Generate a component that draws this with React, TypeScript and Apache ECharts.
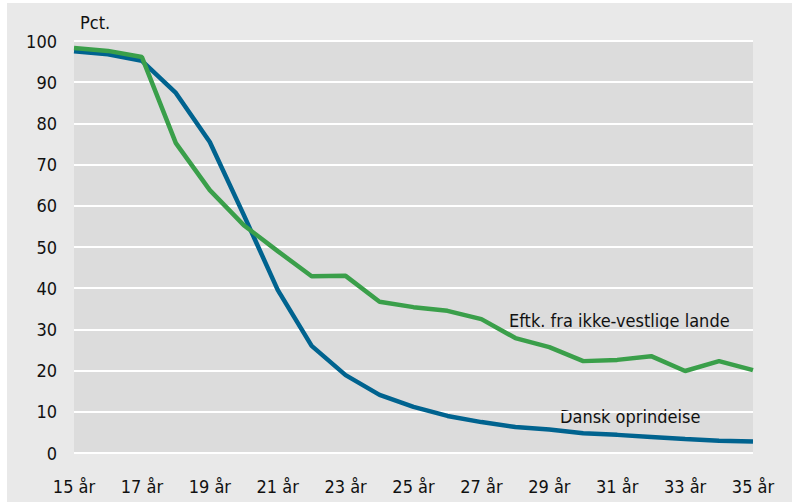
import React, { useEffect, useRef } from "react";
import * as echarts from "echarts";

const ages = ["15 år","16 år","17 år","18 år","19 år","20 år","21 år","22 år","23 år","24 år","25 år","26 år","27 år","28 år","29 år","30 år","31 år","32 år","33 år","34 år","35 år"];
const danskOprindelse = [97.5, 96.8, 95.2, 87.4, 75.5, 57.8, 39.6, 26.0, 18.9, 14.1, 11.2, 9.0, 7.5, 6.3, 5.7, 4.8, 4.4, 3.9, 3.4, 3.0, 2.8];
const ikkeVestlige = [98.3, 97.6, 96.1, 75.2, 63.8, 55.3, 49.0, 42.9, 43.0, 36.7, 35.4, 34.5, 32.5, 27.9, 25.7, 22.3, 22.6, 23.5, 19.9, 22.3, 20.1];
const yTicks = { min: 0, max: 100, interval: 10 };
const FONT = '"Liberation Sans Narrow", "DejaVu Sans Condensed", "Roboto Condensed", sans-serif';

export default function App() {
  const ref = useRef<HTMLDivElement>(null);
  useEffect(() => {
    if (!ref.current) return;
    const chart = echarts.init(ref.current, null, { renderer: "svg" });
    chart.setOption({
      animation: false,
      backgroundColor: "#ffffff",
      textStyle: { fontFamily: FONT },
      graphic: [
        { type: "rect", z: -10, shape: { x: 7, y: 3, width: 785, height: 499 }, style: { fill: "#e9e9e9" } },
        { type: "text", left: 80, top: 13, style: { text: "Pct.", font: `18px ${FONT}`, fill: "#111" } },
        { type: "text", left: 509, top: 311, style: { text: "Eftk. fra ikke-vestlige lande", font: `18px ${FONT}`, fill: "#111" } },
        { type: "text", left: 560, top: 407, style: { text: "Dansk oprindelse", font: `18px ${FONT}`, fill: "#111" } },
      ],
      grid: { left: 74, right: 41, top: 41, bottom: 49, show: true, backgroundColor: "#dcdcdc", borderWidth: 0 },
      xAxis: {
        type: "category",
        data: ages,
        boundaryGap: false,
        axisLine: { show: false },
        axisTick: { show: false },
        splitLine: { show: false },
        axisLabel: { interval: 1, fontSize: 18, color: "#111", fontFamily: FONT, margin: 24 },
      },
      yAxis: {
        type: "value",
        min: yTicks.min,
        max: yTicks.max,
        interval: yTicks.interval,
        axisLine: { show: false },
        axisTick: { show: false },
        splitLine: { show: true, lineStyle: { color: "#ffffff", width: 2 } },
        axisLabel: { fontSize: 18, color: "#111", fontFamily: FONT, margin: 17 },
      },
      series: [
        {
          name: "Dansk oprindelse",
          type: "line",
          data: danskOprindelse,
          showSymbol: false,
          lineStyle: { color: "#00638f", width: 4.5 },
          itemStyle: { color: "#00638f" },
          z: 3,
        },
        {
          name: "Eftk. fra ikke-vestlige lande",
          type: "line",
          data: ikkeVestlige,
          showSymbol: false,
          lineStyle: { color: "#3a9f4a", width: 4.5 },
          itemStyle: { color: "#3a9f4a" },
          z: 4,
        },
      ],
    });
    return () => chart.dispose();
  }, []);
  return <div ref={ref} style={{ position: "fixed", left: 0, top: 0, width: 794, height: 502 }} />;
}
